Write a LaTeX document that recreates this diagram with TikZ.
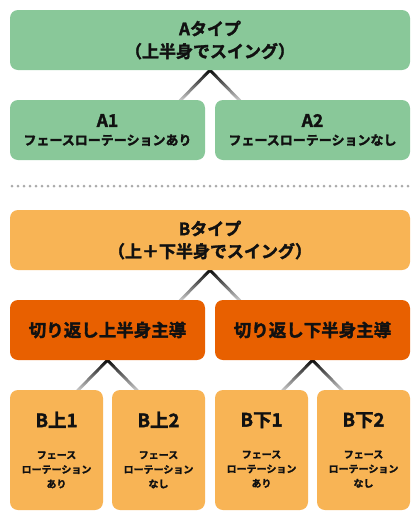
\documentclass[tikz,border=0pt]{standalone}
\usepackage{fontspec}
\setmainfont{Noto Sans CJK JP}[BoldFont={Noto Sans CJK JP Bold},BoldFeatures={FakeBold=1.8}]
\usetikzlibrary{calc,backgrounds}
\definecolor{boxgreen}{RGB}{137,200,153}
\definecolor{boxlight}{RGB}{248,180,85}
\definecolor{boxdark}{RGB}{232,96,0}
\definecolor{dotgray}{RGB}{170,170,170}
\definecolor{txt}{RGB}{17,17,17}
\tikzset{
  box/.style={rectangle, rounded corners=8pt, inner sep=0pt, align=center, text=txt,
    font=\bfseries\fontsize{17}{22.5}\selectfont},
  widebox/.style={box, minimum width=400pt, minimum height=60pt},
  halfbox/.style={box, minimum width=195pt, minimum height=60pt},
  tallbox/.style={box, minimum width=93pt, minimum height=120pt,
    font=\bfseries\fontsize{10}{14.5}\selectfont},
  conn/.style={top color=black, bottom color=black!22},
}
\newcommand\chevronconn[3]{%
  \coordinate (cpk) at (#1.south);
  \coordinate (cbl) at (cpk |- #2.north);
  \shade[conn] ($(cpk)+(0,-2.1)$)
    -- ($(cbl)+(31.1,0)$)
    -- ($(cbl)+(26.9,0)$)
    -- ($(cpk)+(0,2.1)$)
    -- ($(cbl)+(-26.9,0)$)
    -- ($(cbl)+(-31.1,0)$)
    -- cycle;}
\begin{document}
\begin{tikzpicture}[x=1pt,y=-1pt]
\useasboundingbox (0,0) rectangle (420,520);
% A part
\node[widebox, fill=boxgreen] (A) at (210,40) {Aタイプ\\（上半身でスイング）};
\node[halfbox, fill=boxgreen, font=\bfseries\fontsize{13}{18}\selectfont] (A1) at (107.5,130)
  {{\fontsize{17.5}{17.5}\selectfont A1}\\フェースローテーションあり};
\node[halfbox, fill=boxgreen, font=\bfseries\fontsize{13}{18}\selectfont] (A2) at (312.5,130)
  {{\fontsize{17.5}{17.5}\selectfont A2}\\フェースローテーションなし};
% separator
\foreach \x in {12,18,...,408} \fill[dotgray] (\x,186) circle (1.5);
% B part
\node[widebox, fill=boxlight] (B) at (210,240) {Bタイプ\\（上＋下半身でスイング）};
\node[halfbox, fill=boxdark, font=\bfseries\fontsize{17.5}{20}\selectfont] (BU) at (107.5,330) {切り返し上半身主導};
\node[halfbox, fill=boxdark, font=\bfseries\fontsize{17.5}{20}\selectfont] (BD) at (312.5,330) {切り返し下半身主導};
\node[tallbox, fill=boxlight] (BU1) at (56.5,450)
  {{\fontsize{18.5}{18.5}\selectfont B上1}\\[17pt]フェース\\ローテーション\\あり};
\node[tallbox, fill=boxlight] (BU2) at (158.5,450)
  {{\fontsize{18.5}{18.5}\selectfont B上2}\\[17pt]フェース\\ローテーション\\なし};
\node[tallbox, fill=boxlight] (BD1) at (261.5,450)
  {{\fontsize{18.5}{18.5}\selectfont B下1}\\[17pt]フェース\\ローテーション\\あり};
\node[tallbox, fill=boxlight] (BD2) at (363.5,450)
  {{\fontsize{18.5}{18.5}\selectfont B下2}\\[17pt]フェース\\ローテーション\\なし};
% connectors and background
\begin{scope}[on background layer]
  \fill[white] (0,0) rectangle (420,520);
  \chevronconn{A}{A1}{A2}
  \chevronconn{B}{BU}{BD}
  \chevronconn{BU}{BU1}{BU2}
  \chevronconn{BD}{BD1}{BD2}
\end{scope}
\end{tikzpicture}
\end{document}
